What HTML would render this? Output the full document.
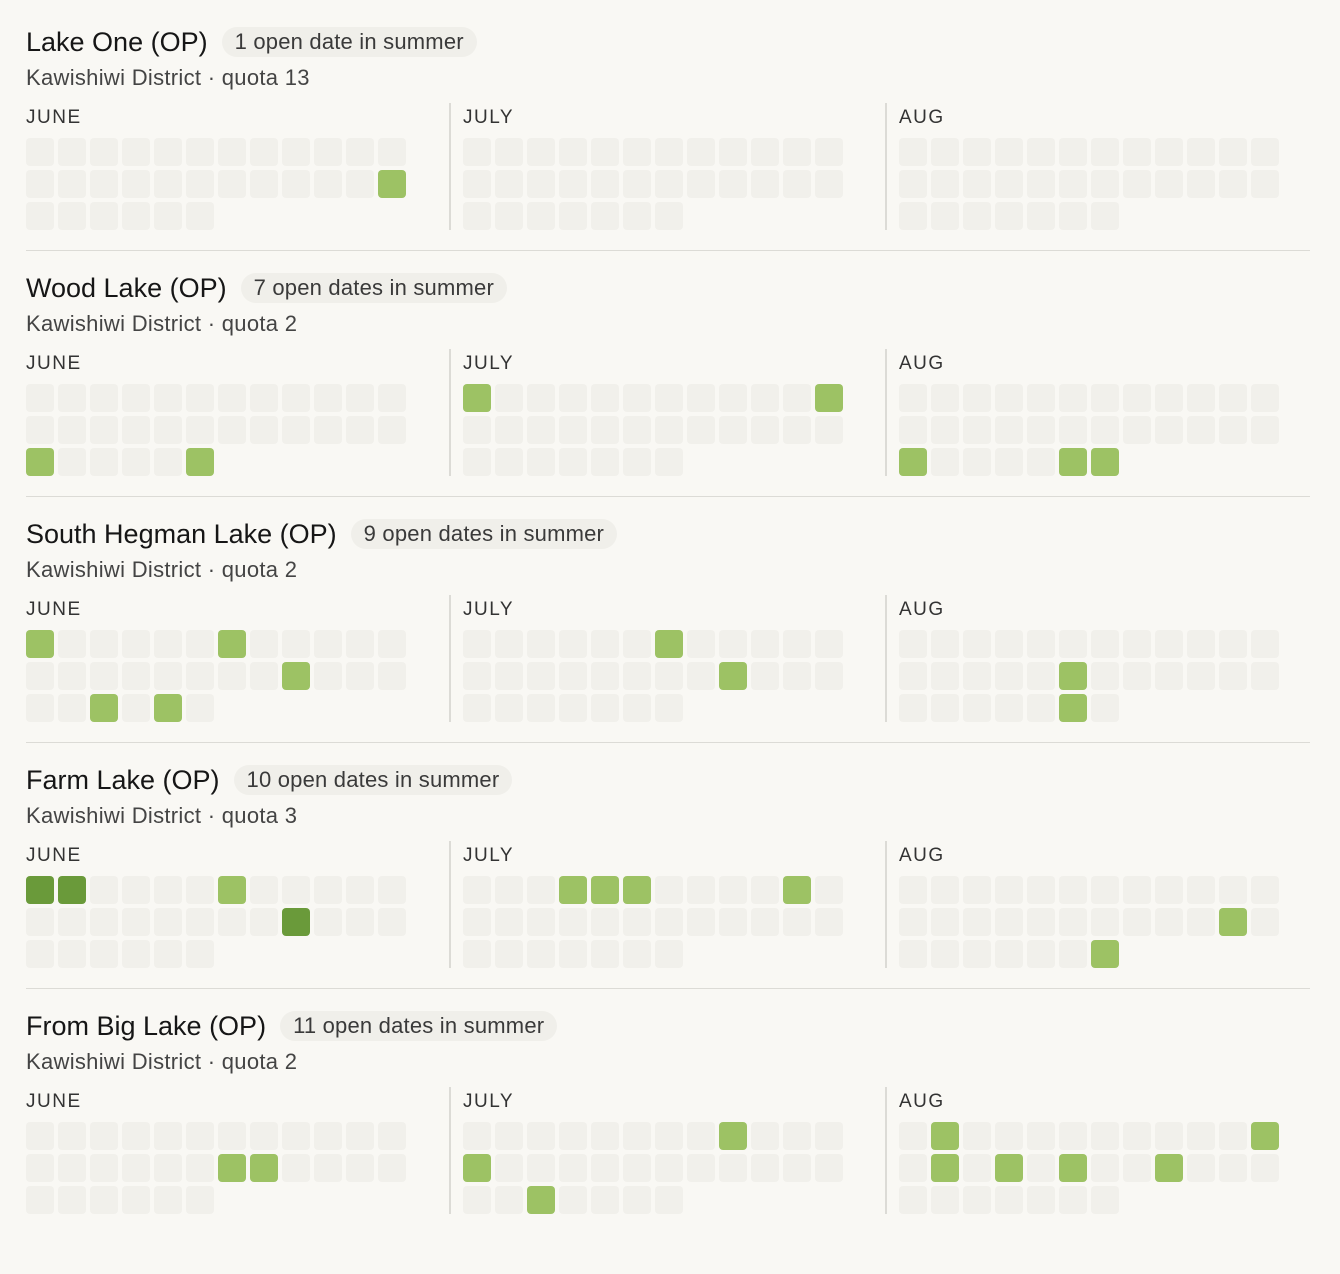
<!DOCTYPE html>
<html><head><meta charset="utf-8"><style>
body{margin:0;background:#f9f8f4;width:1340px;height:1274px;position:relative;font-family:"Liberation Sans",sans-serif;overflow:hidden}
.t{position:absolute;left:26px;font-size:27px;color:#161616;white-space:nowrap;line-height:30px}
.p{display:inline-block;font-size:22px;letter-spacing:0.2px;color:#3a3a3a;background:#f0efea;border-radius:16px;padding:0 13px;line-height:30px;margin-left:14px;vertical-align:top}
.s{position:absolute;left:26px;font-size:22px;letter-spacing:0.3px;color:#444;line-height:24px;white-space:nowrap}
.m{position:absolute;font-size:19px;letter-spacing:1.5px;color:#333;line-height:24px}
.c{position:absolute;width:28px;height:28px;border-radius:4px;background:#f1f0eb}
.g{background:#9dc264}.d{background:#6a9a3a}
.v{position:absolute;width:2px;height:127px;background:#dcdbd6}
.h{position:absolute;left:26px;width:1284px;height:1px;background:#dcdbd6}
</style></head><body>
<div class="t" style="top:27px">Lake One (OP)<span class="p">1 open date in summer</span></div>
<div class="s" style="top:66px">Kawishiwi District · quota 13</div>
<div class="t" style="top:273px">Wood Lake (OP)<span class="p">7 open dates in summer</span></div>
<div class="s" style="top:312px">Kawishiwi District · quota 2</div>
<div class="t" style="top:519px">South Hegman Lake (OP)<span class="p">9 open dates in summer</span></div>
<div class="s" style="top:558px">Kawishiwi District · quota 2</div>
<div class="t" style="top:765px">Farm Lake (OP)<span class="p">10 open dates in summer</span></div>
<div class="s" style="top:804px">Kawishiwi District · quota 3</div>
<div class="t" style="top:1011px">From Big Lake (OP)<span class="p">11 open dates in summer</span></div>
<div class="s" style="top:1050px">Kawishiwi District · quota 2</div>
<div id="root"></div>
<script>
var root=document.getElementById('root');
var mx=[26,463,899],names=['JUNE','JULY','AUG'],days=[30,31,31];
var data=[
 [{'1,11':'g'},{},{}],
 [{'2,0':'g','2,5':'g'},{'0,0':'g','0,11':'g'},{'2,0':'g','2,5':'g','2,6':'g'}],
 [{'0,0':'g','0,6':'g','1,8':'g','2,2':'g','2,4':'g'},{'0,6':'g','1,8':'g'},{'1,5':'g','2,5':'g'}],
 [{'0,0':'d','0,1':'d','1,8':'d','0,6':'g'},{'0,3':'g','0,4':'g','0,5':'g','0,10':'g'},{'1,10':'g','2,6':'g'}],
 [{'1,6':'g','1,7':'g'},{'0,8':'g','1,0':'g','2,2':'g'},{'0,1':'g','0,11':'g','1,1':'g','1,3':'g','1,5':'g','1,8':'g'}]
];
var h='';
for(var s=0;s<5;s++){var y0=s*246;
 for(var m=0;m<3;m++){
  h+='<div class="m" style="left:'+mx[m]+'px;top:'+(y0+106)+'px">'+names[m]+'</div>';
  if(m>0)h+='<div class="v" style="left:'+(mx[m]-14)+'px;top:'+(y0+103)+'px"></div>';
  for(var d=0;d<days[m];d++){var r=Math.floor(d/12),c=d%12,k=data[s][m][r+','+c]||'';
   h+='<div class="c '+k+'" style="left:'+(mx[m]+c*32)+'px;top:'+(y0+138+r*32)+'px"></div>';}
 }
 if(s<4)h+='<div class="h" style="top:'+(y0+250)+'px"></div>';
}
root.innerHTML=h;
</script>
</body></html>
